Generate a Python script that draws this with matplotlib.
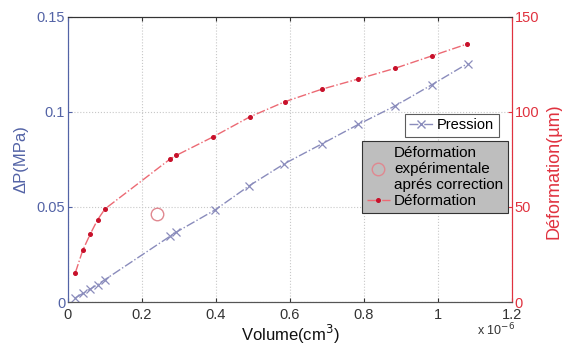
import matplotlib
matplotlib.use("Agg")
import matplotlib.pyplot as plt
from matplotlib.lines import Line2D

plt.rcParams['font.family'] = ['Liberation Sans', 'DejaVu Sans']

# Pression (left axis, MPa) vs volume (x 1e-6 cm^3)
vol_p = [0.02, 0.04, 0.06, 0.08, 0.10, 0.275, 0.293, 0.397, 0.49, 0.585, 0.686, 0.785, 0.884, 0.983, 1.08]
pression = [0.0022, 0.0045, 0.0068, 0.0092, 0.0118, 0.0345, 0.0368, 0.0484, 0.0612, 0.0728, 0.0832, 0.0935, 0.1032, 0.1143, 0.1255]

# Deformation (right axis, um)
vol_d = [0.02, 0.04, 0.06, 0.08, 0.10, 0.275, 0.293, 0.393, 0.491, 0.586, 0.686, 0.785, 0.884, 0.983, 1.079]
deformation = [15.5, 27.3, 35.7, 43.3, 49.0, 75.1, 77.2, 87.0, 97.4, 105.4, 112.0, 117.4, 123.0, 129.5, 135.8]

# Experimental deformation after correction
vol_exp = [0.241]
deform_exp = [46.2]

xticks = [0, 0.2, 0.4, 0.6, 0.8, 1.0, 1.2]
xticklabels = ['0', '0.2', '0.4', '0.6', '0.8', '1', '1.2']
yticks_l = [0, 0.05, 0.1, 0.15]
yticklabels_l = ['0', '0.05', '0.1', '0.15']
yticks_r = [0, 50, 100, 150]

blue = '#5363a6'
pcol = '#8a8cbc'
red = '#e0323f'
lred = '#ec6a74'
dred = '#c8102a'

fig = plt.figure(figsize=(5.62, 3.47), dpi=100)
ax = fig.add_axes([68/562, 1-302/347, 444/562, 285/347])
ax2 = ax.twinx()

ax.plot(vol_p, pression, linestyle='-.', color=pcol, marker='x', markersize=6,
        markeredgewidth=0.9, linewidth=1.0, label='Pression')
ax2.plot(vol_d, deformation, linestyle='-.', color=lred, marker='o', markersize=2.6,
         markerfacecolor=dred, markeredgecolor=dred, linewidth=1.0, label='Déformation')
ax2.plot(vol_exp, deform_exp, linestyle='none', marker='o', markersize=9,
         markerfacecolor='none', markeredgecolor='#e08890', markeredgewidth=1.0)

ax.set_xlim(0, 1.2)
ax.set_ylim(0, 0.15)
ax2.set_ylim(0, 150)
ax.set_xticks(xticks)
ax.set_xticklabels(xticklabels)
ax.set_yticks(yticks_l)
ax.set_yticklabels(yticklabels_l)
ax2.set_yticks(yticks_r)

ax.grid(True, linestyle=':', color='#c8c8c8', linewidth=0.8)
ax.set_axisbelow(True)
ax2.set_zorder(ax.get_zorder() + 1)
ax2.patch.set_visible(False)

ax.tick_params(axis='x', colors='#333333', labelsize=10.5, direction='in', length=3, pad=4)
ax.tick_params(axis='y', colors=blue, labelsize=10.5, direction='in', length=3, pad=2)
ax2.tick_params(axis='y', colors=red, labelsize=10.5, direction='in', length=3, pad=2)
ax.tick_params(top=True, which='both')

ax.spines['left'].set_color(blue)
ax2.spines['left'].set_color(blue)
ax2.spines['right'].set_color(red)
ax.spines['right'].set_color(red)
ax.spines['bottom'].set_color('#555555')
ax2.spines['bottom'].set_color('#555555')
ax.spines['top'].set_color('#333333')
ax2.spines['top'].set_color('#333333')

ax.set_xlabel('Volume(cm$^3$)', fontsize=12, color='#111111', labelpad=1)
ax.set_ylabel('ΔP(MPa)', fontsize=12, color=blue)
ax.yaxis.set_label_coords(-0.09, 0.5)
ax2.set_ylabel('Déformation(µm)', fontsize=13, color=red)
ax2.yaxis.set_label_coords(1.075, 0.46)

fig.text(477/562, 1-330/347, r'x 10$^{-6}$', fontsize=9, color='#333333', ha='left', va='center')

h1 = [Line2D([], [], linestyle='-.', color=pcol, marker='x', markersize=6, linewidth=1.0)]
leg1 = fig.legend(h1, ['Pression'], loc='upper left', bbox_to_anchor=(405/562, 1-114/347),
                  fontsize=10.5, frameon=True, fancybox=False, edgecolor='#333333',
                  handlelength=1.6, handletextpad=0.3, borderpad=0.3, borderaxespad=0)
leg1.get_frame().set_linewidth(0.8)

h2 = [Line2D([], [], linestyle='none', marker='o', markersize=9, markerfacecolor='none',
             markeredgecolor='#e08890'),
      Line2D([], [], linestyle='-.', color=lred, marker='o', markersize=2.6,
             markerfacecolor=dred, markeredgecolor=dred, linewidth=1.0)]
leg2 = fig.legend(h2, ['Déformation\nexpérimentale\naprés correction', 'Déformation'],
                  loc='upper left', bbox_to_anchor=(362/562, 1-141/347),
                  fontsize=11, frameon=True, fancybox=False, edgecolor='#333333',
                  facecolor='#bebebe', framealpha=1.0,
                  handlelength=1.5, handletextpad=0.3, borderpad=0.3, borderaxespad=0,
                  labelspacing=0.15)
leg2.get_frame().set_linewidth(0.8)

fig.savefig('out.png', dpi=100)
